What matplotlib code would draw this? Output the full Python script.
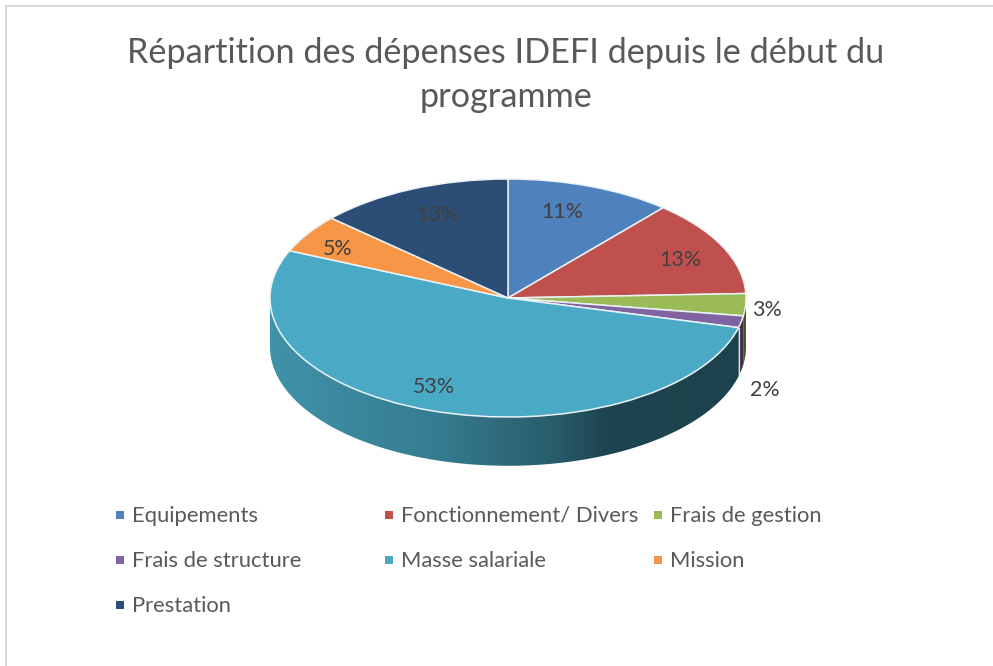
import matplotlib
matplotlib.use("Agg")
import matplotlib.pyplot as plt
from matplotlib.patches import Polygon
import numpy as np

categories = ["Equipements", "Fonctionnement/ Divers", "Frais de gestion",
              "Frais de structure", "Masse salariale", "Mission", "Prestation"]
values = [11.3, 13.1, 3.0, 1.6, 52.5, 5.2, 13.3]
pct_labels = ["11%", "13%", "3%", "2%", "53%", "5%", "13%"]
title = "Répartition des dépenses IDEFI depuis le début du\nprogramme"

colors = ["#4F81BD", "#C0504D", "#9BBB59", "#8064A2", "#4AAAC5", "#F79646", "#2C4D75"]

W, H = 993, 666
CX, CY, RX, RY = 508, 298, 238, 119
DEPTH = 0.41
# label centres, in pie units
label_xy = [(0.23, 0.72), (0.725, 0.32), (1.09, -0.10), (1.08, -0.77),
            (-0.31, -0.75), (-0.714, 0.41), (-0.298, 0.695)]

plt.rcParams["font.family"] = ["Lato", "DejaVu Sans"]

fig = plt.figure(figsize=(W / 100, H / 100), dpi=100)

# page overlay in pixel coordinates: border, title, legend
page = fig.add_axes([0, 0, 1, 1])
page.set_xlim(0, W)
page.set_ylim(H, 0)
page.axis("off")
page.plot([6, 6, W], [H, 6, 6], color="#D9D9D9", lw=1.4)
page.text(506, 75, title, ha="center", va="center", fontsize=24.7,
          color="#595959", linespacing=1.43)

for i, (cat, col) in enumerate(zip(categories, colors)):
    row, c = divmod(i, 3)
    x = 120 + c * 269
    y = 515 + row * 45
    page.scatter([x], [y], marker="s", s=38, color=col, linewidths=0)
    page.text(x + 12, y + 1, cat, va="center", ha="left", fontsize=15.8, color="#595959")

# pie, squashed into an ellipse
xmin, xmax, ymin, ymax = -1.3, 1.3, -1.6, 1.3
left = CX + xmin * RX
top = CY - ymax * RY
ax = fig.add_axes([left / W, 1 - (top + (ymax - ymin) * RY) / H,
                   (xmax - xmin) * RX / W, (ymax - ymin) * RY / H])
wedges, _ = ax.pie(values, colors=colors, startangle=90, counterclock=False,
                   wedgeprops={"edgecolor": "#EAF2F5", "linewidth": 1.1})
ax.set_aspect("auto")
for w in wedges:
    w.set_zorder(3)

# shading of the big slice's wall, left to right
shade_x = [-1, -0.3, 0.2, 0.42, 1]
shade_f = [0.86, 0.73, 0.54, 0.40, 0.39]

# side wall of the pie
for i, w in enumerate(wedges):
    angles = np.radians(np.linspace(w.theta1, w.theta2, 721))
    angles = angles[np.sin(angles) <= 0]
    if len(angles) < 2:
        continue
    base = np.array(matplotlib.colors.to_rgb(colors[i]))
    outline = np.column_stack([np.r_[np.cos(angles), np.cos(angles[::-1])],
                               np.r_[np.sin(angles), np.sin(angles[::-1]) - DEPTH]])
    if categories[i] == "Masse salariale":
        poly = Polygon(outline, closed=True, facecolor="none", edgecolor="none")
        ax.add_patch(poly)
        xs = np.linspace(-1, 1, 480)
        grad = np.outer(np.interp(xs, shade_x, shade_f), base)[None, :, :]
        img = ax.imshow(grad, extent=(-1, 1, -1.5, 0), aspect="auto", zorder=1,
                        interpolation="bilinear")
        img.set_clip_path(poly)
        a = angles[0] if np.cos(angles[0]) > 0 else angles[-1]
        ax.plot([np.cos(a)] * 2, [np.sin(a), np.sin(a) - DEPTH], color="#DDE8EC",
                lw=0.9, zorder=2)
    else:
        ax.add_patch(Polygon(outline, closed=True, facecolor=base * 0.45,
                             edgecolor="none", zorder=1))

ax.set_xlim(xmin, xmax)
ax.set_ylim(ymin, ymax)

for txt, (x, y) in zip(pct_labels, label_xy):
    ax.text(x, y, txt, ha="center", va="center", fontsize=15.4, color="#404040", zorder=5)

fig.savefig("out.png", dpi=100)
